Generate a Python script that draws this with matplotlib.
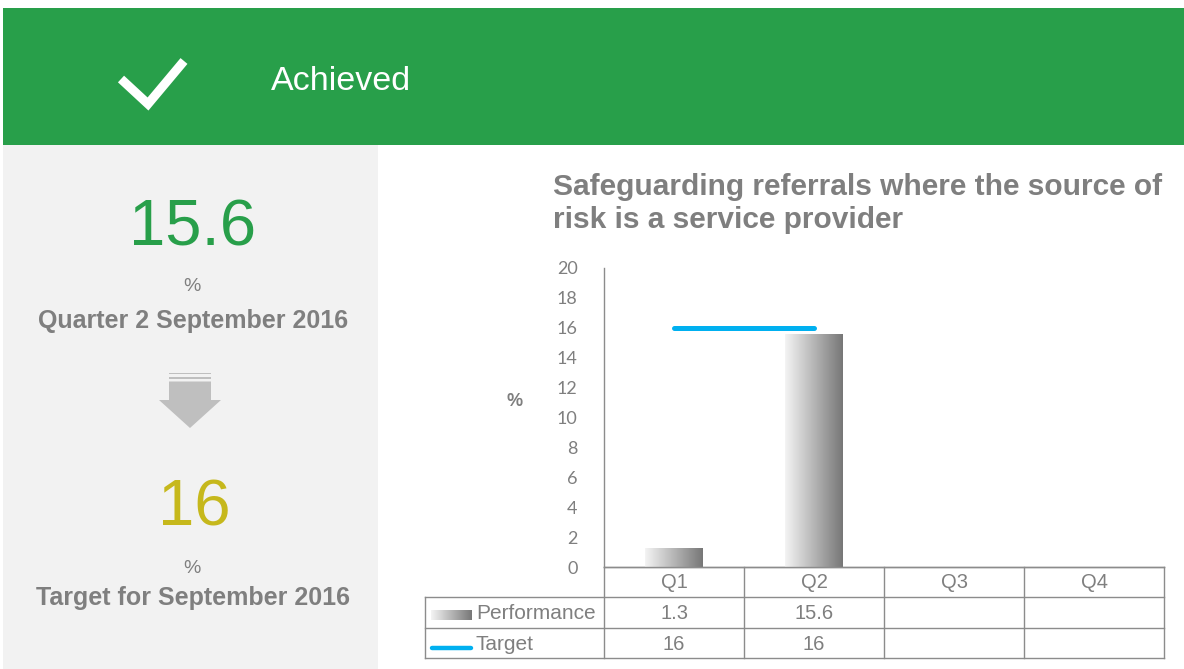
"""Safeguarding referrals dashboard tile: status banner, headline figures and quarterly chart."""

import numpy as np
import matplotlib

matplotlib.use("Agg")
import matplotlib.pyplot as plt  # noqa: E402
from matplotlib.colors import LinearSegmentedColormap  # noqa: E402
from matplotlib.patches import Polygon, Rectangle  # noqa: E402

# ---- data -------------------------------------------------------------
quarters = ["Q1", "Q2", "Q3", "Q4"]
performance = [1.3, 15.6, np.nan, np.nan]
target = [16, 16, np.nan, np.nan]
status = "Achieved"
current_value = "15.6"
current_label = "Quarter 2 September 2016"
target_value = "16"
target_label = "Target for September 2016"
title_lines = ["Safeguarding referrals where the source of", "risk is a service provider"]
yticks = list(range(0, 21, 2))

# ---- style ------------------------------------------------------------
GREEN = "#289f4a"
YELLOW = "#c6b81c"
GREY_TXT = "#7f7f7f"
PANEL = "#f2f2f2"
LINE_BLUE = "#00b0f0"
GRID = "#8c8c8c"
FONT = "Liberation Sans"
bar_cmap = LinearSegmentedColormap.from_list("bar", ["#f4f4f4", "#777777"])
grad = np.linspace(0, 1, 256).reshape(1, -1)

W, H = 1184, 669
fig = plt.figure(figsize=(W / 100, H / 100), dpi=100)
fig.patch.set_facecolor("white")

# overlay axes in pixel coords (y down) for the decorations
ov = fig.add_axes([0, 0, 1, 1], zorder=0)
ov.set_xlim(0, W)
ov.set_ylim(H, 0)
ov.axis("off")

# banner + side panel
ov.add_patch(Rectangle((3, 8), W - 3, 137, color=GREEN, lw=0))
ov.add_patch(Rectangle((3, 145), 375, H - 145, color=PANEL, lw=0))
ov.plot([121, 148, 184], [79, 104, 61], color="white", lw=6.5, solid_joinstyle="miter",
        solid_capstyle="butt")
ov.text(271, 90, status, color="white", fontsize=24.5, family=FONT, va="baseline")

# headline numbers
ov.text(193, 245, current_value, color=GREEN, fontsize=47, family=FONT, ha="center", va="baseline")
ov.text(192, 291, "%", color=GREY_TXT, fontsize=14, family=FONT, ha="center", va="baseline")
ov.text(193, 328, current_label, color=GREY_TXT, fontsize=18, family=FONT, weight="bold",
        ha="center", va="baseline")

# down arrow with stripes
ARROW = "#bfbfbf"
ov.add_patch(Rectangle((169, 372.5), 42, 1.8, color=ARROW, lw=0))
ov.add_patch(Rectangle((169, 376.5), 42, 2.8, color=ARROW, lw=0))
ov.add_patch(Polygon([(169, 381.5), (211, 381.5), (211, 400), (221, 400), (190, 428),
                      (159, 400), (169, 400)], closed=True, color=ARROW, lw=0))

ov.text(194, 526, target_value, color=YELLOW, fontsize=47, family=FONT, ha="center", va="baseline")
ov.text(192, 573, "%", color=GREY_TXT, fontsize=14, family=FONT, ha="center", va="baseline")
ov.text(193, 605, target_label, color=GREY_TXT, fontsize=18, family=FONT, weight="bold",
        ha="center", va="baseline")

# chart title
for line, base in zip(title_lines, [195, 228]):
    ov.text(553, base, line, color=GREY_TXT, fontsize=21.5, family=FONT, weight="bold", va="baseline")
ov.text(515, 402, "%", color=GREY_TXT, fontsize=13, family=FONT, weight="bold",
        ha="center", va="center")

# ---- chart ------------------------------------------------------------
left, right, top, bottom = 604, 1164, 268, 567
ax = fig.add_axes([left / W, (H - bottom) / H, (right - left) / W, (bottom - top) / H], zorder=1)
ax.set_facecolor("none")
x = np.arange(len(quarters))
bars = ax.bar(x, np.nan_to_num(performance), width=0.41, color="none", lw=0)
for b in bars:
    if b.get_height() <= 0:
        continue
    x0, w, h = b.get_x(), b.get_width(), b.get_height()
    im = ax.imshow(grad, cmap=bar_cmap, aspect="auto", extent=(x0, x0 + w, 0, h), zorder=2)
    im.set_clip_path(b)
ax.plot(x, target, color=LINE_BLUE, lw=3.6, solid_capstyle="round", zorder=3)
ax.set_xlim(-0.5, len(quarters) - 0.5)
ax.set_ylim(0, 20)
ax.set_yticks(yticks)
ax.set_xticks([])
ax.tick_params(axis="y", length=0, pad=19, labelcolor=GREY_TXT, labelsize=13)
for lab in ax.get_yticklabels():
    lab.set_family("Lato")
for s in ["top", "right"]:
    ax.spines[s].set_visible(False)
for s in ["left", "bottom"]:
    ax.spines[s].set_color(GRID)
    ax.spines[s].set_linewidth(1.0)

# ---- data table under the chart ---------------------------------------
edges = np.linspace(left, right, len(quarters) + 1)
centers = (edges[:-1] + edges[1:]) / 2
row_y = [567, 597, 628, 658]
lab_left = 425
lk = dict(color=GRID, lw=1.0, zorder=1)
# header row (no label cell)
ov.plot([left, right], [row_y[0], row_y[0]], **lk)
for e in edges:
    ov.plot([e, e], [row_y[0], row_y[3]], **lk)
for yy in row_y[1:]:
    ov.plot([lab_left, right], [yy, yy], **lk)
ov.plot([lab_left, lab_left], [row_y[1], row_y[3]], **lk)

tk = dict(color=GREY_TXT, fontsize=14.5, family=FONT, ha="center", va="center")
for q, cx in zip(quarters, centers):
    ov.text(cx, (row_y[0] + row_y[1]) / 2 + 1, q, **tk)
for vals, r in [(performance, 1), (target, 2)]:
    for v, cx in zip(vals, centers):
        if not np.isnan(v):
            ov.text(cx, (row_y[r] + row_y[r + 1]) / 2 + 1, f"{v:g}", **tk)

# legend keys in the label column
ov.imshow(grad, cmap=bar_cmap, aspect="auto", extent=(431, 472, 620, 610), zorder=2)
ov.plot([432, 471], [647.5, 647.5], color=LINE_BLUE, lw=3.2, solid_capstyle="round")
ov.set_xlim(0, W)
ov.set_ylim(H, 0)
ov.text(476, (row_y[1] + row_y[2]) / 2 + 1, "Performance", color=GREY_TXT, fontsize=15,
        family=FONT, va="center")
ov.text(476, (row_y[2] + row_y[3]) / 2 + 1, "Target", color=GREY_TXT, fontsize=15,
        family=FONT, va="center")

fig.savefig("out.png", dpi=100)
plt.close(fig)
